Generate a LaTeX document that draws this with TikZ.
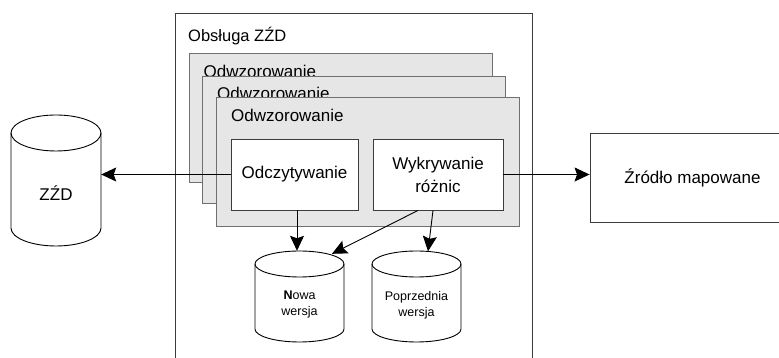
\documentclass[tikz,border=0pt]{standalone}
\usepackage{fontspec}
\setmainfont{Liberation Sans}
\usetikzlibrary{arrows.meta,calc}
\definecolor{boxgray}{HTML}{E6E6E6}
\definecolor{edgegray}{HTML}{707070}
\definecolor{darkedge}{HTML}{3C3C3C}
\tikzset{
  outerbox/.style={draw=darkedge, line width=0.9pt},
  mapbox/.style={draw=edgegray, fill=boxgray, line width=0.9pt, inner sep=0pt},
  whitebox/.style={draw=darkedge, fill=white, line width=0.9pt, inner sep=0pt, align=center, font=\fontsize{17}{23}\selectfont},
  lbl/.style={anchor=base west, inner sep=0pt, font=\fontsize{17}{20}\selectfont},
  conn/.style={line width=0.9pt, -{Stealth[length=15pt,width=14pt,inset=2.5pt]}},
  cylline/.style={draw=black, fill=white, line width=0.9pt},
  cyltext/.style={align=center, inner sep=0pt},
}
\newcommand{\drawcyl}[6]{%
  \path[cylline] (#2,#3-#6) -- (#2,#3-#5+#6)
    arc[start angle=180,end angle=360,x radius=#4/2,y radius=#6]
    -- (#2+#4,#3-#6)
    arc[start angle=0,end angle=180,x radius=#4/2,y radius=#6] -- cycle;
  \draw[cylline,fill=none] (#2,#3-#6) arc[start angle=180,end angle=360,x radius=#4/2,y radius=#6];
  \node[inner sep=0pt, minimum width=#4pt, minimum height=#5pt] (#1) at (#2+#4/2, #3-#5/2) {};
}
\begin{document}
\begin{tikzpicture}[x=1pt,y=1pt]
\useasboundingbox (0,0) rectangle (779,358);
\clip (0,0) rectangle (779,358);
\fill[white] (0,0) rectangle (779,358);
% outer container
\draw[outerbox] (175,-30) rectangle (532,345);
\node[lbl, font=\fontsize{16.5}{20}\selectfont] (obs) at (188,316) {Obsługa ZŹD};
% mapping stack
\node[mapbox, minimum width=303pt, minimum height=129pt] (map1) at (340.5,240.5) {};
\node[lbl] (map1t) at (203.5,280) {Odwzorowanie};
\node[mapbox, minimum width=303pt, minimum height=127pt] (map2) at (353.5,218.5) {};
\node[lbl] (map2t) at (217,258) {Odwzorowanie};
\node[mapbox, minimum width=303pt, minimum height=129pt] (map3) at (367.5,196.5) {};
\node[lbl] (map3t) at (231,236) {Odwzorowanie};
% inner boxes
\node[whitebox, minimum width=127pt, minimum height=71pt] (odcz) at (294.5,183.5) {Odczytywanie};
\node[whitebox, minimum width=130pt, minimum height=71pt] (wykr) at (438,183.5) {Wykrywanie\\różnic};
% external box
\node[whitebox, minimum width=205pt, minimum height=89pt, font=\fontsize{17}{20}\selectfont] (zrodlo) at (692.5,180.5) {Źródło mapowane};
% cylinders
\drawcyl{zzd}{11}{243}{90}{131}{18}
\node[cyltext, font=\fontsize{17}{20}\selectfont] (zzdt) at (56,165) {ZŹD};
\drawcyl{nowa}{255}{107}{89}{91}{13}
\node[cyltext, font=\fontsize{12.5}{16}\selectfont] (nowat) at (299.5,53) {\textbf{N}owa\\wersja};
\drawcyl{poprz}{372}{107}{89}{91}{13}
\node[cyltext, font=\fontsize{12.5}{16}\selectfont] (poprzt) at (416.5,53) {Poprzednia\\wersja};
% connector end points
\coordinate (wA) at ($(wykr.south)+(-20,0)$);
\coordinate (wB) at ($(wykr.south)+(-5,0)$);
\coordinate (nowaTR) at ($(nowa.north)+(32.5,-3)$);
\coordinate (poprzT) at ($(poprz.north)+(11.5,-0.5)$);
% connectors
\draw[conn] (odcz.west) -- (odcz.west -| zzd.east);
\draw[conn] (wykr.east) -- (wykr.east -| zrodlo.west);
\draw[conn] ($(odcz.south)+(2.5,0)$) -- ($(nowa.north)+(-2.5,0)$);
\draw[conn] (wA) -- (nowaTR);
\draw[conn] (wB) -- (poprzT);
\end{tikzpicture}
\end{document}
